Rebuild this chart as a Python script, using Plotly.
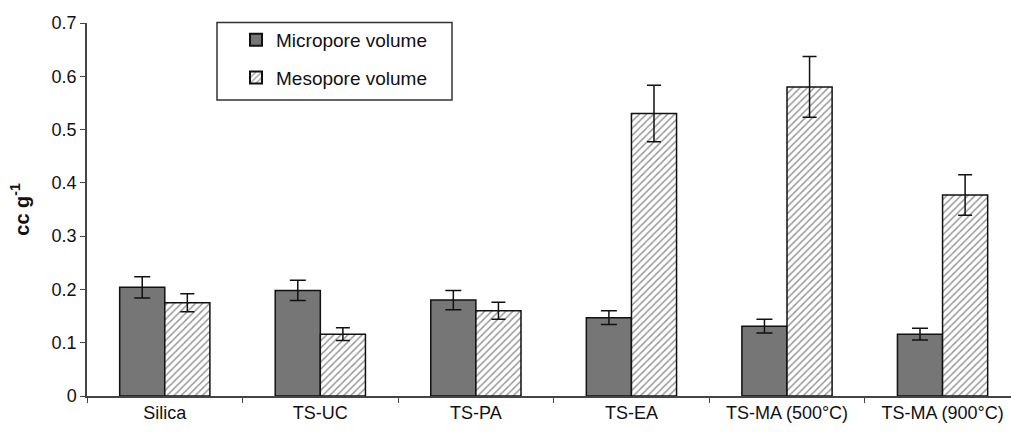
import plotly.graph_objects as go

categories = ["Silica", "TS-UC", "TS-PA", "TS-EA", "TS-MA (500°C)", "TS-MA (900°C)"]
micropore = [0.204, 0.198, 0.180, 0.147, 0.131, 0.116]
micropore_err = [0.020, 0.019, 0.018, 0.013, 0.013, 0.011]
mesopore = [0.175, 0.116, 0.160, 0.530, 0.580, 0.377]
mesopore_err = [0.017, 0.012, 0.016, 0.053, 0.057, 0.038]
y_ticks = [0, 0.1, 0.2, 0.3, 0.4, 0.5, 0.6, 0.7]

FONT = "Liberation Sans, Arial, sans-serif"

fig = go.Figure()
fig.add_trace(go.Bar(
    name="Micropore volume", x=categories, y=micropore,
    marker=dict(color="#767676", line=dict(color="#111111", width=1.5)),
    error_y=dict(type="data", array=micropore_err, visible=True,
                 color="#111111", thickness=1.5, width=8),
    legendgroup="a",
))
fig.add_trace(go.Bar(
    name="Mesopore volume", x=categories, y=mesopore,
    marker=dict(color="white", line=dict(color="#111111", width=1.5),
                pattern=dict(shape="/", fgcolor="#333333", bgcolor="white",
                             size=5, solidity=0.3)),
    error_y=dict(type="data", array=mesopore_err, visible=True,
                 color="#111111", thickness=1.5, width=7),
    legendgroup="b",
))

fig.update_layout(
    width=1011, height=433,
    margin=dict(l=87, r=0, t=23, b=37),
    paper_bgcolor="white", plot_bgcolor="white",
    barmode="group", bargap=0.42, bargroupgap=0,
    font=dict(family=FONT, size=18, color="#111111"),
    showlegend=True,
    legend=dict(x=(236 - 87) / 924, y=(396.5 - 21) / 373.5, xanchor="left", yanchor="top",
                bgcolor="rgba(0,0,0,0)", borderwidth=0,
                font=dict(family=FONT, size=19, color="#111111"), tracegroupgap=10,
                itemsizing="constant"),
    shapes=[dict(type="rect", xref="paper", yref="paper",
                 x0=(217 - 87) / 924, x1=(452 - 87) / 924,
                 y0=(396.5 - 100) / 373.5, y1=(396.5 - 22.5) / 373.5,
                 line=dict(color="#333333", width=1.5), fillcolor="rgba(0,0,0,0)")],
)
fig.update_xaxes(
    type="category", range=[-0.5, 5.44],
    showline=True, linecolor="#444444", linewidth=1.5,
    ticks="outside", tickson="boundaries", ticklen=5, tickcolor="#444444",
    showgrid=False, tickfont=dict(family=FONT, size=18, color="#111111"),
)
fig.update_yaxes(
    range=[0, 0.7], tickvals=y_ticks,
    showline=True, linecolor="#444444", linewidth=1.5,
    ticks="outside", ticklen=5, tickcolor="#444444",
    showgrid=False, zeroline=False, tickfont=dict(family=FONT, size=18, color="#111111"),
    title=dict(text="<b>cc g<sup>-1</sup></b>", font=dict(family=FONT, size=20, color="#111111"),
               standoff=17),
)

fig.write_html("out.html")
